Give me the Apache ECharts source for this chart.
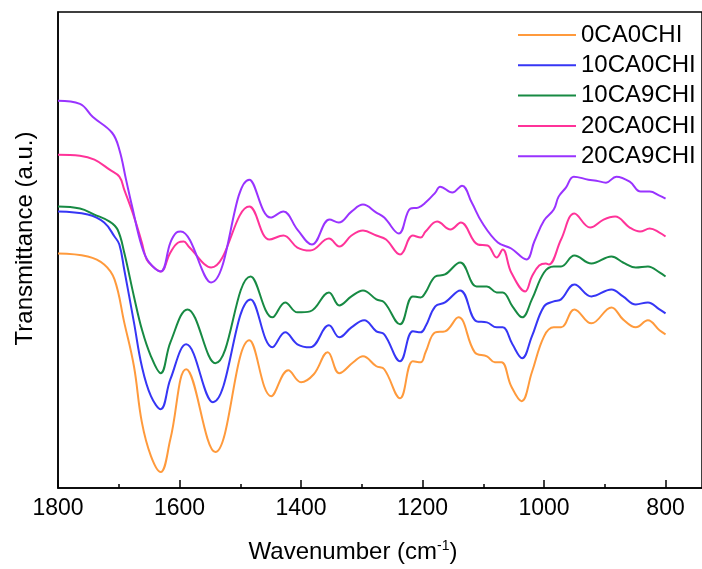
<!DOCTYPE html>
<html>
<head>
<meta charset="utf-8">
<script src="https://cdn.jsdelivr.net/npm/echarts@6/dist/echarts.min.js"></script>
<style>
html,body{margin:0;padding:0;background:#fff;}
#chart{width:702px;height:569px;}
</style>
</head>
<body>
<div id="chart"></div>
<script>
// Series names
const seriesNames = ['0CA0CHI', '10CA0CHI', '10CA9CHI', '20CA0CHI', '20CA9CHI'];
const seriesColors = ['#FF9A3C', '#3636F5', '#178A43', '#FF3399', '#9933FF'];

// Tick labels (wavenumber, cm-1)
const majorTicks = [1800, 1600, 1400, 1200, 1000, 800];
const minorTicks = [1700, 1500, 1300, 1100, 900];

// 0CA0CHI
const wnA = [1800,1751,1724,1707,1691,1675,1662,1647,1631,1615,1589,1541,1485,1449,1421,1400,1379,1356,1337,1314,1298,1276,1263,1237,1216,1203,1195,1179,1163,1141,1114,1094,1081,1070,1054,1037,1020,1000,984,972,950,922,889,870,849,829,810,800];
const tA  = [235,232,224,209,166,122,66,32,16,49,119,36,148,92,118,106,114,136,115,126,132,122,119,90,127,126,136,156,157,171,136,132,126,126,102,87,116,152,161,161,179,165,181,169,161,168,158,154];

// 10CA0CHI
const wnB = [1800,1751,1724,1707,1699,1691,1675,1662,1647,1631,1615,1589,1545,1483,1447,1426,1406,1385,1354,1337,1317,1296,1276,1263,1237,1216,1203,1195,1179,1163,1138,1111,1094,1078,1068,1052,1036,1020,1000,984,972,950,922,889,870,849,829,810,800];
const tB  = [277,274,266,252,244,219,166,122,92,79,109,144,86,189,141,156,144,141,163,151,161,168,157,154,127,157,156,162,182,186,198,167,166,161,161,144,130,152,182,187,189,204,192,199,192,184,186,179,175];

// 10CA9CHI
const wnC = [1800,1764,1740,1715,1702,1691,1675,1662,1647,1631,1615,1587,1541,1483,1447,1426,1406,1385,1354,1337,1317,1298,1276,1263,1237,1216,1203,1195,1179,1163,1138,1111,1094,1078,1068,1052,1036,1020,1000,984,972,950,922,889,870,849,829,810,800];
const tC  = [282,280,274,267,259,236,192,159,132,115,146,179,125,212,171,186,176,177,196,183,192,198,189,186,164,192,191,196,212,214,226,202,202,196,196,182,171,189,216,222,222,233,225,232,226,221,222,216,212];

// 20CA0CHI
const wnD = [1800,1764,1740,1715,1699,1691,1675,1662,1654,1642,1631,1615,1602,1593,1585,1548,1485,1452,1429,1406,1385,1354,1337,1317,1298,1276,1260,1237,1216,1203,1195,1176,1154,1137,1109,1093,1078,1068,1054,1031,1020,1008,997,992,972,950,924,902,883,859,842,826,810,800];
const tD  = [334,333,329,319,312,299,272,246,229,221,217,236,246,247,242,221,282,249,253,241,238,250,242,253,258,253,249,234,253,251,257,267,259,266,244,243,231,239,216,197,212,223,225,224,249,275,261,269,272,261,257,260,256,252];

// 20CA9CHI
const wnE = [1800,1764,1743,1711,1699,1688,1678,1662,1650,1631,1615,1605,1598,1548,1485,1450,1429,1406,1382,1353,1338,1317,1298,1276,1263,1239,1220,1207,1195,1179,1171,1151,1135,1119,1102,1076,1054,1029,1016,1000,984,976,964,951,927,914,898,881,859,841,826,810,800];
const tE  = [388,385,372,356,339,309,282,242,226,217,246,256,257,206,309,271,277,259,244,269,266,277,284,276,271,255,280,281,286,296,302,296,303,286,266,246,240,229,247,268,279,292,301,312,309,308,306,312,307,297,297,293,290];

const wnList = [wnA, wnB, wnC, wnD, wnE];
const tList = [tA, tB, tC, tD, tE];

const FONT = "'Liberation Sans', Arial, sans-serif";

const chart = echarts.init(document.getElementById('chart'), null, {renderer: 'canvas'});

const series = seriesNames.map((name, k) => ({
  name: name,
  type: 'line',
  xAxisIndex: 0,
  yAxisIndex: 0,
  data: wnList[k].map((w, i) => [w, tList[k][i]]),
  smooth: 0.4,
  symbol: 'none',
  lineStyle: {color: seriesColors[k], width: 2},
  itemStyle: {color: seriesColors[k]},
  animation: false
}));

chart.setOption({
  animation: false,
  backgroundColor: '#fff',
  grid: {
    left: 58, top: 12, width: 652, height: 477,
    show: true, borderColor: '#000', borderWidth: 1.5, backgroundColor: 'transparent'
  },
  legend: {
    orient: 'vertical',
    left: 518,
    top: 23,
    padding: 0,
    itemWidth: 58,
    itemHeight: 12,
    itemGap: 6.3,
    data: seriesNames.map((n, k) => ({name: n, icon: 'path://M0,5 L58,5 L58,7 L0,7 Z', itemStyle: {color: seriesColors[k]}})),
    textStyle: {fontFamily: FONT, fontSize: 24, color: '#000', lineHeight: 24}
  },
  xAxis: [{
    type: 'value',
    inverse: true,
    min: 740, max: 1800,
    position: 'bottom',
    axisLine: {show: true, lineStyle: {color: '#000', width: 1.5}},
    axisTick: {show: true, inside: true, length: 8, customValues: majorTicks, lineStyle: {color: '#000', width: 1.5}},
    axisLabel: {show: true, customValues: majorTicks, margin: 9, fontFamily: FONT, fontSize: 23, color: '#000', formatter: v => String(v)},
    splitLine: {show: false},
    name: '{a|Wavenumber (cm}{s|-1}{a|)}',
    nameLocation: 'middle',
    nameGap: 51,
    nameTextStyle: {
      padding: [0, 54, 0, 0],
      rich: {
        a: {fontFamily: FONT, fontSize: 24, color: '#000', lineHeight: 26},
        s: {fontFamily: FONT, fontSize: 14, color: '#000', verticalAlign: 'top', lineHeight: 14}
      }
    }
  }, {
    type: 'value',
    inverse: true,
    min: 740, max: 1800,
    position: 'bottom',
    axisLine: {show: false},
    axisTick: {show: true, inside: true, length: 4, customValues: minorTicks, lineStyle: {color: '#000', width: 1.5}},
    axisLabel: {show: false},
    splitLine: {show: false}
  }],
  yAxis: {
    type: 'value',
    min: 0, max: 477,
    axisLine: {show: true, lineStyle: {color: '#000', width: 1.5}},
    axisTick: {show: false},
    axisLabel: {show: false},
    splitLine: {show: false},
    name: 'Transmittance (a.u.)',
    nameLocation: 'middle',
    nameGap: 21,
    nameTextStyle: {fontFamily: FONT, fontSize: 24, color: '#000', padding: [0, 0, 0, 23]}
  },
  series: series
});
</script>
</body>
</html>
